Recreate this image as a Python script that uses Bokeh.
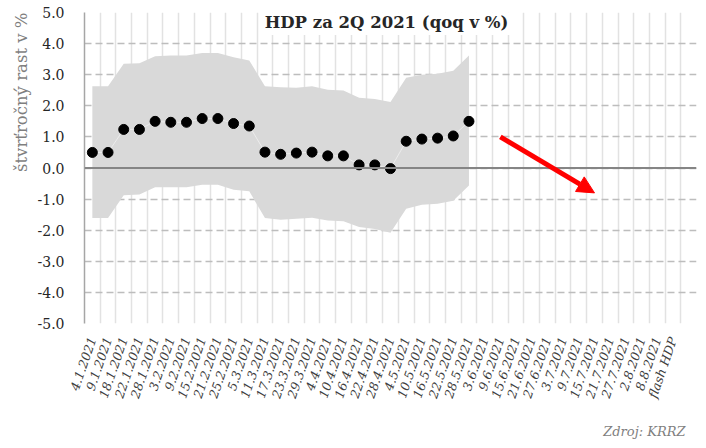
import math
from bokeh.plotting import figure
from bokeh.models import FixedTicker, Span, Label, Arrow, NormalHead, PrintfTickFormatter, Title
from bokeh.embed import file_html
from bokeh.resources import INLINE

# ---- data ----
categories = ["4.1.2021", "9.1.2021", "18.1.2021", "22.1.2021", "28.1.2021",
              "3.2.2021", "9.2.2021", "15.2.2021", "21.2.2021", "25.2.2021",
              "5.3.2021", "11.3.2021", "17.3.2021", "23.3.2021", "29.3.2021",
              "4.4.2021", "10.4.2021", "16.4.2021", "22.4.2021", "28.4.2021",
              "4.5.2021", "10.5.2021", "16.5.2021", "22.5.2021", "28.5.2021",
              "3.6.2021", "9.6.2021", "15.6.2021", "21.6.2021", "27.6.2021",
              "3.7.2021", "9.7.2021", "15.7.2021", "21.7.2021", "27.7.2021",
              "2.8.2021", "8.8.2021", "flash HDP", ""]
point_values = [0.50, 0.50, 1.24, 1.24, 1.50, 1.47, 1.47, 1.59, 1.59, 1.43,
                1.35, 0.51, 0.44, 0.48, 0.51, 0.39, 0.39, 0.10, 0.10, -0.02,
                0.86, 0.93, 0.96, 1.03, 1.50]
band_upper = [2.63, 2.63, 3.35, 3.37, 3.59, 3.62, 3.62, 3.70, 3.70, 3.56,
              3.46, 2.63, 2.60, 2.58, 2.63, 2.52, 2.49, 2.26, 2.22, 2.12,
              2.90, 3.00, 3.03, 3.13, 3.62]
band_lower = [-1.61, -1.61, -0.88, -0.85, -0.62, -0.62, -0.62, -0.54, -0.54, -0.70,
              -0.75, -1.61, -1.66, -1.63, -1.60, -1.69, -1.71, -1.90, -1.96, -2.08,
              -1.31, -1.18, -1.15, -1.05, -0.56]
y_ticks = [-5, -4, -3, -2, -1, 0, 1, 2, 3, 4, 5]
arrow_from = ("9.6.2021", 1.0)
arrow_to = ("15.7.2021", -0.8)

title_text = "HDP za 2Q 2021 (qoq v %)"
y_label_text = "štvrťročný rast v %"
source_text = "Zdroj: KRRZ"

SERIF = "DejaVu Serif"

def cx(cat):
    return categories.index(cat) + 0.5

xs = [cx(c) for c in categories[:len(point_values)]]

p = figure(x_range=(0, len(categories)), y_range=(y_ticks[0], y_ticks[-1]),
           frame_width=612, frame_height=311,
           min_border_left=84, min_border_right=10, min_border_top=12, min_border_bottom=125,
           output_backend="svg", toolbar_location=None)
p.outline_line_color = None
p.background_fill_color = "white"
p.border_fill_color = "white"

# grids
p.xgrid.ticker = FixedTicker(ticks=list(range(len(categories) + 1)))
p.xgrid.grid_line_color = "#e2e2e2"
p.xgrid.grid_line_width = 1.5
p.ygrid.ticker = FixedTicker(ticks=y_ticks)
p.ygrid.grid_line_color = "#bdbdbd"
p.ygrid.grid_line_width = 1.5
p.ygrid.grid_line_dash = "7 4"

# y axis
p.yaxis.ticker = FixedTicker(ticks=y_ticks)
p.yaxis.formatter = PrintfTickFormatter(format="%.1f")
p.yaxis.major_tick_line_color = None
p.yaxis.minor_tick_line_color = None
p.yaxis.major_tick_out = 0
p.yaxis.major_tick_in = 0
p.yaxis.major_label_standoff = 20
p.yaxis.axis_line_color = "#a6a6a6"
p.yaxis.axis_line_width = 1.5
p.yaxis.major_label_text_font = SERIF
p.yaxis.major_label_text_font_size = "14px"
p.yaxis.major_label_text_color = "#262626"

# x axis
label_ticks = [cx(c) for c in categories if c != ""]
p.xaxis.ticker = FixedTicker(ticks=label_ticks)
p.xaxis.major_label_overrides = {cx(c): c for c in categories if c != ""}
p.xaxis.major_label_orientation = math.radians(71)
p.xaxis.major_tick_line_color = None
p.xaxis.minor_tick_line_color = None
p.xaxis.major_tick_out = 0
p.xaxis.major_tick_in = 0
p.xaxis.axis_line_color = None
p.xaxis.major_label_standoff = 14
p.xaxis.major_label_text_font = SERIF
p.xaxis.major_label_text_font_style = "italic"
p.xaxis.major_label_text_font_size = "12.5px"
p.xaxis.major_label_text_color = "#404040"

# band
p.varea(x=xs, y1=band_lower, y2=band_upper, fill_color="#d9d9d9")
# faint connector
p.line(x=xs, y=point_values, line_color="#ececec", line_width=1)

# zero line
p.add_layout(Span(location=0, dimension="width", line_color="#858585", line_width=2))

# points
p.scatter(x=xs, y=point_values, size=10, fill_color="black", line_color="black")

# arrow
p.add_layout(Arrow(end=NormalHead(size=17, fill_color="#ff0000", line_color="#ff0000"),
                   x_start=cx(arrow_from[0]), y_start=arrow_from[1],
                   x_end=cx(arrow_to[0]), y_end=arrow_to[1],
                   line_color="#ff0000", line_width=5))

# title (inside the frame, on a white box)
p.add_layout(Label(x=302, y=301, x_units="screen", y_units="screen", text=title_text,
                   text_font=SERIF, text_font_style="bold", text_font_size="16.5px",
                   text_color="#262626", text_align="center", text_baseline="middle",
                   background_fill_color="white", padding=3))
# y label
p.add_layout(Title(text=y_label_text, align="right", text_font=SERIF,
                   text_font_size="16.5px", text_font_style="normal",
                   text_color="#7f7f7f", standoff=8), "left")
# source
p.add_layout(Title(text=source_text, align="right", offset=11, text_font=SERIF,
                   text_font_size="13px", text_font_style="italic",
                   text_color="#7f7f7f", standoff=33), "below")

open("out.html", "w").write(file_html(p, INLINE))
